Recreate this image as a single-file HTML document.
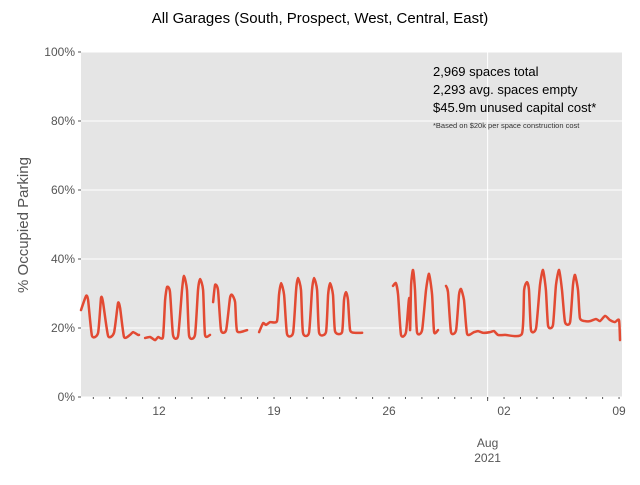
<!DOCTYPE html>
<html><head><meta charset="utf-8"><style>
body{margin:0;background:#fff;width:640px;height:480px;overflow:hidden}
svg text{font-family:"Liberation Sans",sans-serif}
</style></head><body>
<svg id="chart" width="640" height="480" xmlns="http://www.w3.org/2000/svg">
<text x="320" y="23" text-anchor="middle" font-size="15" fill="#000">All Garages (South, Prospect, West, Central, East)</text>
<rect x="81" y="52" width="541" height="345" fill="#e5e5e5"/>
<g id="grid"></g>
<g id="series"></g>
<g id="axes"></g>
<text transform="translate(28,225) rotate(-90)" text-anchor="middle" font-size="15" fill="#555">% Occupied Parking</text>
<g font-size="13" fill="#000">
<text x="433" y="76">2,969 spaces total</text>
<text x="433" y="94">2,293 avg. spaces empty</text>
<text x="433" y="112">$45.9m unused capital cost*</text>
<text x="433" y="128" font-size="7.5" fill="#333">*Based on $20k per space construction cost</text>
</g>
</svg>
<script>
// days since Jul 12 2021; null separates gaps
const days = [-4.75,-4.44,-4.32,-4.08,-3.71,-3.53,-3.41,-3.10,-2.74,-2.50,-2.37,-2.13,-1.77,-1.58,-1.28,-1.22,null,
-0.85,-0.55,-0.24,-0.06,0.24,0.37,0.49,0.67,0.85,1.16,1.40,1.52,1.70,1.83,2.19,2.37,2.50,2.68,2.80,3.10,null,
3.29,3.41,3.59,3.77,4.08,4.32,4.44,4.63,4.75,5.36,null,
6.09,6.33,6.51,6.76,7.18,7.30,7.43,7.61,7.79,8.16,8.34,8.46,8.64,8.76,9.13,9.31,9.43,9.62,9.74,10.16,10.29,10.41,10.59,10.71,11.14,11.26,11.38,11.50,11.63,11.93,12.36,null,
14.24,14.42,14.55,14.73,15.03,15.22,15.28,15.34,15.46,15.58,15.70,16.01,16.25,16.43,16.62,16.74,16.98,null,
17.47,17.59,17.77,18.08,18.26,18.38,18.56,18.75,19.17,19.42,19.72,20.15,20.39,20.63,21.06,22.09,22.22,22.40,22.52,22.64,22.95,23.19,23.37,23.55,23.68,23.98,24.16,24.35,24.53,24.71,25.02,25.20,25.32,25.50,25.62,25.92,26.23,26.60,26.84,27.15,27.45,27.75,28.00,28.06];
const occupancy = [25.2,29.3,28.1,17.7,18.6,28.7,27.5,17.7,18.6,27.2,25.8,17.4,18.0,18.8,18.0,18.0,null,
17.1,17.4,16.5,17.4,17.4,28.1,31.9,30.4,18.0,17.7,31.0,35.1,31.0,17.7,18.0,31.0,34.2,31.0,18.0,18.0,null,
27.5,32.5,31.0,19.4,19.4,28.7,29.6,27.5,19.1,19.4,null,
18.8,21.4,20.9,21.7,22.0,29.6,33.0,29.6,18.3,18.6,31.0,34.5,31.0,18.6,18.6,31.0,34.5,31.0,18.6,18.8,29.6,33.0,29.6,19.1,18.8,28.1,30.4,28.1,19.4,18.6,18.6,null,
32.2,33.0,29.6,18.0,18.8,28.7,19.4,32.5,36.8,31.0,18.8,19.4,31.0,35.7,29.6,18.8,19.4,null,
32.2,30.4,18.8,19.4,29.6,31.3,28.1,18.3,18.8,19.1,18.6,18.8,19.1,18.0,18.0,18.3,31.0,33.3,31.0,19.4,20.0,32.5,36.8,31.0,20.6,20.9,32.5,36.8,31.0,21.7,21.7,32.5,35.4,31.0,22.9,22.0,22.0,22.6,22.0,23.5,22.3,21.7,22.3,16.5];
const yTicks = [0,20,40,60,80,100];
const xTickDays = [0,7,14,21,28];
const xTickLabels = ['12','19','26','02','09'];
const majorDay = 20; // Aug 1
const NS='http://www.w3.org/2000/svg';
const L=81,R=622,T=52,B=397;
const d0=-4.75,d1=28.18;
const xs=d=>L+(d-d0)/(d1-d0)*(R-L);
const ys=v=>B-v/100*(B-T);
function mk(tag,attrs,parent){const e=document.createElementNS(NS,tag);for(const k in attrs)e.setAttribute(k,attrs[k]);parent.appendChild(e);return e;}
const grid=document.getElementById('grid'),axes=document.getElementById('axes'),series=document.getElementById('series');
yTicks.forEach(v=>{
  const g=mk('line',{x1:L,x2:R,y1:ys(v),y2:ys(v),stroke:'#fff','stroke-width':1},grid);
  
  
  const t=mk('text',{x:L-6,y:ys(v)+4,'text-anchor':'end','font-size':12,fill:'#555'},axes);
  
  
  t.textContent=v+'%';
  mk('line',{x1:L-3,x2:L,y1:ys(v),y2:ys(v),stroke:'#555'},axes);
});
const mg=mk('line',{x1:xs(majorDay),x2:xs(majorDay),y1:T,y2:B,stroke:'#fff','stroke-width':1},grid);


for(let d=Math.ceil(d0);d<=d1;d++){mk('line',{x1:xs(d),x2:xs(d),y1:B,y2:B+2,stroke:'#555'},axes);}
mk('line',{x1:xs(majorDay),x2:xs(majorDay),y1:B,y2:B+4,stroke:'#555'},axes);
xTickDays.forEach((d,i)=>{
  const t=mk('text',{x:xs(d),y:B+18,'text-anchor':'middle','font-size':12,fill:'#555'},axes);
  
  
  t.textContent=xTickLabels[i];
});
const m1=mk('text',{x:xs(majorDay),y:B+50,'text-anchor':'middle','font-size':12,fill:'#555'},axes);


m1.textContent='Aug';
const m2=mk('text',{x:xs(majorDay),y:B+65,'text-anchor':'middle','font-size':12,fill:'#555'},axes);


m2.textContent='2021';
const segs=[];let cur=[];
for(let i=0;i<days.length;i++){
  if(days[i]===null||occupancy[i]===null){if(cur.length)segs.push(cur);cur=[];continue;}
  cur.push([xs(days[i]),ys(occupancy[i])]);
}
if(cur.length)segs.push(cur);
let dstr='';
const k=0.2;
segs.forEach(s=>{
  dstr+='M'+s[0][0].toFixed(1)+','+s[0][1].toFixed(1);
  for(let i=0;i<s.length-1;i++){
    const p0=s[Math.max(0,i-1)],p1=s[i],p2=s[i+1],p3=s[Math.min(s.length-1,i+2)];
    const c1x=p1[0]+(p2[0]-p0[0])*k/2,c1y=p1[1]+(p2[1]-p0[1])*k/2;
    const c2x=p2[0]-(p3[0]-p1[0])*k/2,c2y=p2[1]-(p3[1]-p1[1])*k/2;
    dstr+='C'+c1x.toFixed(1)+','+c1y.toFixed(1)+' '+c2x.toFixed(1)+','+c2y.toFixed(1)+' '+p2[0].toFixed(1)+','+p2[1].toFixed(1);
  }
});
const p=mk('path',{d:dstr,fill:'none',stroke:'#e24a33','stroke-width':2.5,'stroke-linejoin':'round','stroke-linecap':'round'},series);


</script>
</body></html>
